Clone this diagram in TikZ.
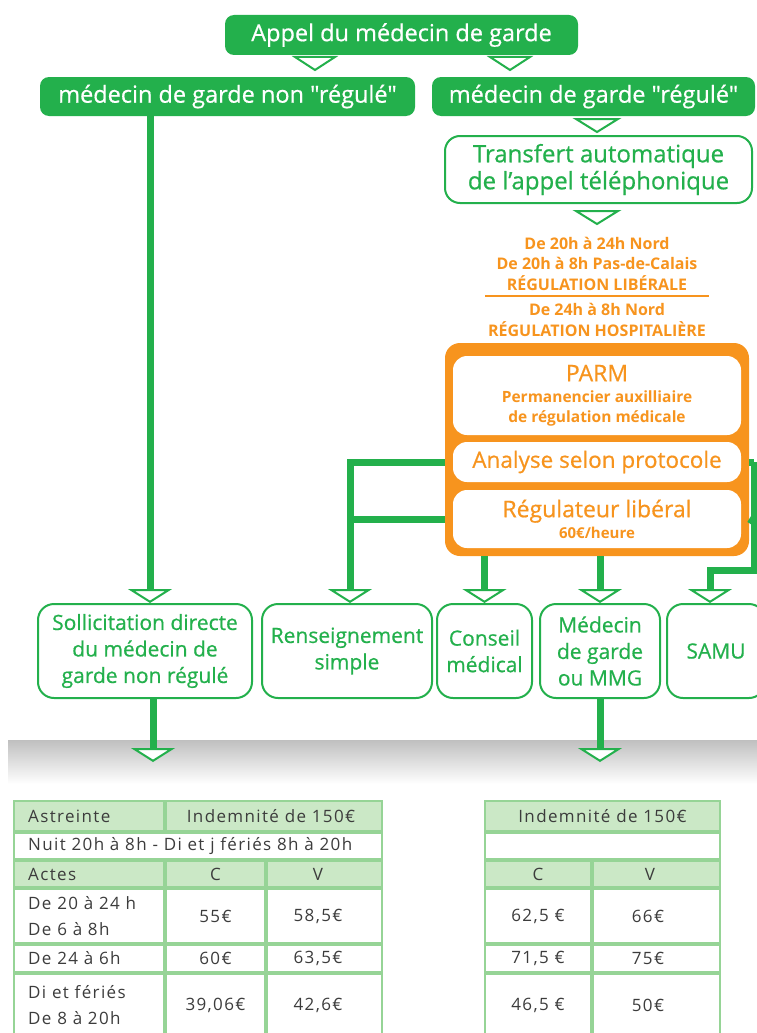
\documentclass[tikz,border=0pt]{standalone}
\usepackage{fontspec}
\setmainfont{Open Sans}
\newfontfamily\medf{Open Sans}[FakeBold=0.6]
\newfontfamily\tabf{Open Sans}[LetterSpace=8]
\usetikzlibrary{arrows.meta}
\definecolor{cgreen}{RGB}{35,176,76}
\definecolor{corange}{RGB}{247,148,30}
\definecolor{tfill}{RGB}{203,232,198}
\definecolor{tline}{RGB}{150,212,150}
\definecolor{ttext}{RGB}{60,60,60}
\newcommand\tcell[5]{\draw[tcellst, fill=#5] (#1+1,#2+1) rectangle (#3-1,#4-1);}
\begin{document}
\begin{tikzpicture}[x=1pt,y=-1pt,
  gfill/.style={fill=cgreen, rounded corners=9pt, text=white, inner sep=0pt,
    font=\medf\fontsize{23.5}{24}\selectfont},
  gline/.style={draw=cgreen, line width=2pt, fill=white, rounded corners=15pt,
    text=cgreen, align=center, inner sep=0pt},
  wbox/.style={fill=white, rounded corners=14pt, text=corange, align=center, inner sep=0pt},
  otext/.style={text=corange, inner sep=0pt, font=\bfseries\fontsize{16}{16}\selectfont},
  tri/.style={draw=cgreen, line width=2pt, fill=white, line join=miter},
  link/.style={draw=cgreen, line width=7pt},
  conn/.style={draw=cgreen, line width=7pt,
    -{Triangle[width=44pt,length=14pt,line width=2pt,fill=white]}},
  tcellst/.style={draw=tline, line width=1.3pt},
  tt/.style={text=ttext, inner sep=0pt, font=\tabf\fontsize{17}{26}\selectfont, align=left},
]
\useasboundingbox (0,0) rectangle (757,1033);
\clip (0,0) rectangle (757,1033);

% grey band
\shade[top color=black!25, bottom color=white] (8,740) rectangle (757,784);

% top boxes
\node[gfill, minimum width=353, minimum height=40] (appel) at (401.5,35) {Appel du médecin de garde};
\node[gfill, minimum width=375, minimum height=39] (nonreg) at (227.5,96.5) {médecin de garde non "régulé"};
\node[gfill, minimum width=323, minimum height=39] (reg) at (593.5,96.5) {médecin de garde "régulé"};
\draw[tri] (295,57) -- (335,57) -- (315,70) -- cycle;
\draw[tri] (490,57) -- (530,57) -- (510,70) -- cycle;
\draw[tri] (576,119) -- (618,119) -- (597,132) -- cycle;

\node[gline, minimum width=307, minimum height=67, font=\medf\fontsize{24}{27}\selectfont] (transfert) at (598.5,169.5)
  {Transfert automatique\\de l’appel téléphonique};
\draw[tri] (576,211) -- (618,211) -- (597,224) -- cycle;

% orange texts
\node[otext] (o1) at (597,243) {De 20h à 24h Nord};
\node[otext] (o2) at (597,263) {De 20h à 8h Pas-de-Calais};
\node[otext] (o3) at (597,283) {RÉGULATION LIBÉRALE};
\draw[corange, line width=1.5pt] (485,296) -- (709,296);
\node[otext] (o4) at (597,309) {De 24h à 8h Nord};
\node[otext] (o5) at (597,329) {RÉGULATION HOSPITALIÈRE};

% orange block
\node[fill=corange, rounded corners=15pt, minimum width=304, minimum height=213, inner sep=0pt] (obox) at (597,449.5) {};
\node[wbox, minimum width=288, minimum height=79, font=\bfseries\fontsize{15.5}{20}\selectfont] (parm) at (597,395.5)
  {{\mdseries\medf\fontsize{23}{24}\selectfont PARM}\\[1pt]Permanencier auxilliaire\\de régulation médicale};
\node[wbox, minimum width=288, minimum height=40, font=\medf\fontsize{22.5}{24}\selectfont] (analyse) at (597,462) {Analyse selon protocole};
\node[wbox, minimum width=288, minimum height=58, font=\bfseries\fontsize{15}{21}\selectfont] (regul) at (597,519)
  {{\mdseries\medf\fontsize{23}{24}\selectfont Régulateur libéral}\\60€/heure};

% bottom boxes
\begin{scope}[every node/.style={gline, rounded corners=16pt, minimum height=94, font=\medf\fontsize{21}{26.5}\selectfont}]
\node[minimum width=214] (sol) at (145,651) {Sollicitation directe\\du médecin de\\garde non régulé};
\node[minimum width=170] (rens) at (347,651) {Renseignement\\simple};
\node[minimum width=95] (cons) at (484.5,651) {Conseil\\médical};
\node[minimum width=120] (mmg) at (600,651) {Médecin\\de garde\\ou MMG};
\node[minimum width=98] (samu) at (716,651) {SAMU};
\end{scope}

% connectors
\draw[conn] ([xshift=5pt]sol.north |- nonreg.south) -- ([xshift=5pt]sol.north);
\draw[conn] (obox.west |- analyse) -| ([xshift=3pt]rens.north);
\draw[link] (obox.west |- regul) -- ([xshift=3pt]rens.north |- regul);
\draw[conn] (obox.south -| cons.north) -- (cons.north);
\draw[conn] (obox.south -| mmg.north) -- (mmg.north);
\coordinate (ra) at (754,462);
\coordinate (rb) at (754,522);
\coordinate (rc) at (754,570);
\draw[link] (obox.east |- analyse) -- (ra);
\draw[link] (obox.east |- regul) -- (rb);
\draw[conn] (ra) -- (rc) -| ([xshift=-6pt]samu.north);
\coordinate (t1) at (153,762);
\coordinate (t2) at (600,762);
\draw[conn] ([xshift=8pt]sol.south) -- (t1);
\draw[conn] (mmg.south) -- (t2);

% left table
\tcell{13}{800}{165}{832}{tfill}
\tcell{165}{800}{383}{832}{tfill}
\tcell{13}{832}{383}{860}{white}
\tcell{13}{860}{165}{888}{tfill}
\tcell{165}{860}{266}{888}{tfill}
\tcell{266}{860}{383}{888}{tfill}
\foreach \ya/\yb in {888/944,944/973,973/1045}{
  \tcell{13}{\ya}{165}{\yb}{white}
  \tcell{165}{\ya}{266}{\yb}{white}
  \tcell{266}{\ya}{383}{\yb}{white}
}
\node[tt, anchor=west] (a1) at (28,816) {Astreinte};
\node[tt] (a2) at (271,816) {Indemnité de 150€};
\node[tt, anchor=west] (a3) at (28,846) {Nuit 20h à 8h - Di et j fériés 8h à 20h};
\node[tt, anchor=west] (a4) at (28,874) {Actes};
\node[tt] (a5) at (215.5,874) {C};
\node[tt] (a6) at (318,874) {V};
\node[tt, anchor=west] (a7) at (28,916) {De 20 à 24 h\\De 6 à 8h};
\node[tt] (a8) at (215.5,916) {55€};
\node[tt] (a9) at (318,916) {58,5€};
\node[tt, anchor=west] (a10) at (28,958.5) {De 24 à 6h};
\node[tt] (a11) at (215.5,958.5) {60€};
\node[tt] (a12) at (318,958.5) {63,5€};
\node[tt, anchor=west] (a13) at (28,1005) {Di et fériés\\De 8 à 20h};
\node[tt] (a14) at (215.5,1005) {39,06€};
\node[tt] (a15) at (318,1005) {42,6€};

% right table
\tcell{484}{800}{721}{832}{tfill}
\tcell{484}{832}{721}{860}{white}
\tcell{484}{860}{592}{888}{tfill}
\tcell{592}{860}{721}{888}{tfill}
\foreach \ya/\yb in {888/944,944/973,973/1045}{
  \tcell{484}{\ya}{592}{\yb}{white}
  \tcell{592}{\ya}{721}{\yb}{white}
}
\node[tt] (b1) at (602.5,816) {Indemnité de 150€};
\node[tt] (b2) at (538,874) {C};
\node[tt] (b3) at (650,874) {V};
\node[tt] (b4) at (538,916) {62,5 €};
\node[tt] (b5) at (648,916) {66€};
\node[tt] (b6) at (538,958.5) {71,5 €};
\node[tt] (b7) at (648,958.5) {75€};
\node[tt] (b8) at (538,1005) {46,5 €};
\node[tt] (b9) at (648,1005) {50€};
\end{tikzpicture}
\end{document}
